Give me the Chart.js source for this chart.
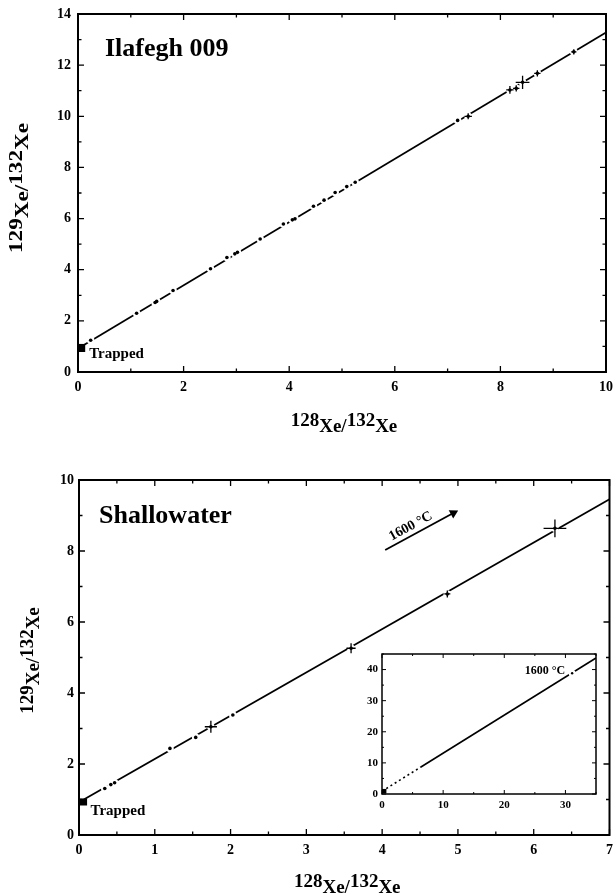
<!DOCTYPE html>
<html>
<head>
<meta charset="utf-8">
<title>Xe isotopes</title>
<script src="https://cdn.jsdelivr.net/npm/chart.js@4.4.1/dist/chart.umd.min.js"></script>
<style>
  html, body { margin: 0; padding: 0; background: #fff; }
  .page { position: relative; width: 615px; height: 895px; overflow: hidden; }
  canvas { position: absolute; }
  #ilafegh { left: 0; top: 0; }
  #shallow { left: 0; top: 440px; }
  #inset { left: 340px; top: 645px; }
</style>
</head>
<body>
<div class="page">
  <canvas id="ilafegh" width="615" height="440"></canvas>
  <canvas id="shallow" width="615" height="455"></canvas>
  <canvas id="inset" width="260" height="170"></canvas>
</div>
<script>
const SERIF = '"Liberation Serif", "Times New Roman", serif';

// Ilafegh 009 - release steps (128Xe/132Xe vs 129Xe/132Xe), error bars where visible
const ilafX = [0.24, 1.11, 1.46, 1.49, 1.80, 2.51, 2.82, 2.97, 3.02, 3.45, 3.89, 4.06, 4.11, 4.46, 4.66, 4.87, 5.09, 5.25, 7.19, 7.39, 8.18, 8.30, 8.42, 8.70, 9.39];
const ilafY = [1.24, 2.30, 2.72, 2.76, 3.19, 4.04, 4.48, 4.62, 4.68, 5.20, 5.79, 5.95, 5.99, 6.48, 6.72, 7.02, 7.25, 7.42, 9.84, 10.00, 11.03, 11.09, 11.33, 11.68, 12.52];
const ilafErrX = [0, 0, 0, 0, 0, 0, 0, 0, 0, 0, 0, 0, 0, 0, 0, 0, 0, 0, 0, 0.07, 0.07, 0.06, 0.13, 0.06, 0.05];
const ilafErrY = [0, 0, 0, 0, 0, 0, 0, 0, 0, 0, 0, 0, 0, 0, 0, 0, 0, 0, 0, 0.12, 0.15, 0.12, 0.26, 0.12, 0.10];
const ilafFitX = [0, 10];
const ilafFitY = [0.92, 13.28];
const ilafTrappedX = [0.06];
const ilafTrappedY = [0.94];

// Shallowater
const shallX = [0.34, 0.42, 0.47, 1.20, 1.54, 1.74, 2.03, 3.59, 4.86, 6.28];
const shallY = [1.31, 1.42, 1.47, 2.44, 2.75, 3.05, 3.38, 5.26, 6.79, 8.64];
const shallErrX = [0, 0, 0, 0, 0, 0.08, 0, 0.06, 0.04, 0.15];
const shallErrY = [0, 0, 0, 0, 0, 0.17, 0, 0.14, 0.10, 0.25];
const shallFitX = [0, 7];
const shallFitY = [0.92, 9.46];
const shallTrappedX = [0.06];
const shallTrappedY = [0.93];
const arrowX = [4.04, 4.94];
const arrowY = [8.03, 9.07];

// Shallowater inset, full range up to the 1600 C step
const insetLineX = [0, 6.3, 35];
const insetLineY = [0.9, 8.6, 43.7];
const hotX = [31.1];
const hotY = [38.8];
const insetTrappedX = [0.35];
const insetTrappedY = [0.9];

const pts = (xs, ys) => xs.map((x, i) => ({ x, y: ys[i] }));

// X-Y plot: fit line, white gaps round the points, the points, trapped square
function markerSets(xs, ys, fitX, fitY, trapX, trapY, trapR) {
  return [
    { data: pts(fitX, fitY), showLine: true, borderColor: '#000', borderWidth: 1.8, pointRadius: 0, order: 3 },
    { data: pts(xs, ys), pointStyle: 'circle', pointRadius: 3.8, pointBackgroundColor: '#fff', pointBorderWidth: 0, order: 2 },
    { data: pts(xs, ys), pointStyle: 'circle', pointRadius: 1.8, pointBackgroundColor: '#000', pointBorderWidth: 0, order: 1 },
    { data: pts(trapX, trapY), pointStyle: 'rect', pointRadius: trapR, pointBackgroundColor: '#000', pointBorderWidth: 0, order: 0 }
  ];
}

// box around the plot with inward major / minor ticks on all sides
function framePlugin(t) {
  return {
    id: 'frame',
    afterDatasetsDraw(chart) {
      const { ctx, chartArea: a, scales: { x, y } } = chart;
      ctx.save();
      ctx.strokeStyle = '#000';
      ctx.lineWidth = t.tickLw;
      ctx.beginPath();
      const mark = (axis, step, major, fn) => {
        for (let i = 0; ; i++) {
          const v = axis.min + i * step;
          if (v > axis.max + 1e-9) break;
          const isMajor = Math.abs(v / major - Math.round(v / major)) < 1e-6;
          fn(axis.getPixelForValue(v), isMajor ? t.major : t.minor);
        }
      };
      mark(x, t.xMinor, t.xMajor, (p, len) => {
        ctx.moveTo(p, a.bottom); ctx.lineTo(p, a.bottom - len);
        ctx.moveTo(p, a.top); ctx.lineTo(p, a.top + len);
      });
      mark(y, t.yMinor, t.yMajor, (p, len) => {
        ctx.moveTo(a.left, p); ctx.lineTo(a.left + len, p);
        ctx.moveTo(a.right, p); ctx.lineTo(a.right - len, p);
      });
      ctx.stroke();
      ctx.lineWidth = t.lw;
      ctx.strokeRect(a.left, a.top, a.right - a.left, a.bottom - a.top);
      ctx.restore();
    }
  };
}

function errorBars(xs, ys, ex, ey) {
  return {
    id: 'errorBars',
    afterDatasetsDraw(chart) {
      const { ctx, scales: { x, y } } = chart;
      ctx.save();
      ctx.strokeStyle = '#000';
      ctx.lineWidth = 1.3;
      ctx.beginPath();
      xs.forEach((v, i) => {
        if (!ex[i] && !ey[i]) return;
        const px = x.getPixelForValue(v), py = y.getPixelForValue(ys[i]);
        ctx.moveTo(x.getPixelForValue(v - ex[i]), py);
        ctx.lineTo(x.getPixelForValue(v + ex[i]), py);
        ctx.moveTo(px, y.getPixelForValue(ys[i] - ey[i]));
        ctx.lineTo(px, y.getPixelForValue(ys[i] + ey[i]));
      });
      ctx.stroke();
      ctx.restore();
    }
  };
}

// "128Xe/132Xe" with the mass numbers raised over the element symbol
function isotopeLabel(ctx, massA, massB, cx, baseline, angle, size, stretch) {
  const parts = [[massA, 0], ['Xe/', 6], [massB, 0], ['Xe', 6]];
  ctx.save();
  ctx.translate(cx, baseline);
  ctx.rotate(angle);
  ctx.scale(stretch, 1);
  ctx.font = `bold ${size}px ${SERIF}`;
  ctx.textAlign = 'left';
  ctx.textBaseline = 'alphabetic';
  const w = parts.reduce((s, p) => s + ctx.measureText(p[0]).width, 0);
  let pos = -w / 2;
  for (const [txt, dy] of parts) {
    ctx.fillText(txt, pos, dy);
    pos += ctx.measureText(txt).width;
  }
  ctx.restore();
}

function axisOpts(min, max, step, size, pad, fitSize, isX) {
  return {
    type: 'linear',
    min, max,
    afterFit: s => {
      // fixed axis band, and no extra room for the end labels
      if (isX) { s.height = fitSize; s.paddingLeft = 0; s.paddingRight = 0; }
      else { s.width = fitSize; s.paddingTop = 0; s.paddingBottom = 0; }
    },
    grid: { display: false, drawTicks: false },
    border: { display: false },
    ticks: {
      stepSize: step, includeBounds: false, maxRotation: 0, autoSkip: false,
      color: '#000', padding: pad,
      font: { family: SERIF, weight: 'bold', size }
    }
  };
}

function baseOptions(padding, xAxis, yAxis) {
  return {
    responsive: false,
    animation: false,
    events: [],
    layout: { padding },
    plugins: { legend: { display: false }, tooltip: { enabled: false }, colors: { enabled: false } },
    scales: { x: xAxis, y: yAxis }
  };
}

// ---------- Ilafegh 009 ----------
new Chart(document.getElementById('ilafegh'), {
  type: 'scatter',
  data: { datasets: markerSets(ilafX, ilafY, ilafFitX, ilafFitY, ilafTrappedX, ilafTrappedY, 5.7) },
  options: baseOptions({ top: 14, right: 9, left: 0, bottom: 0 },
    axisOpts(0, 10, 2, 14, 7, 68, true),
    axisOpts(0, 14, 2, 14, 7, 78, false)),
  plugins: [
    errorBars(ilafX, ilafY, ilafErrX, ilafErrY),
    framePlugin({ lw: 2, tickLw: 1.3, major: 6, minor: 3.5, xMajor: 2, xMinor: 1, yMajor: 2, yMinor: 1 }),
    {
      id: 'notes',
      afterDraw(chart) {
        const { ctx, chartArea: a, scales: { x, y } } = chart;
        ctx.save();
        ctx.fillStyle = '#000';
        ctx.font = `bold 26px ${SERIF}`;
        ctx.fillText('Ilafegh 009', a.left + 27, a.top + 42);
        ctx.font = `bold 15px ${SERIF}`;
        ctx.fillText('Trapped', x.getPixelForValue(ilafTrappedX[0]) + 8, y.getPixelForValue(ilafTrappedY[0]) + 10);
        isotopeLabel(ctx, '128', '132', (a.left + a.right) / 2 + 2, a.bottom + 54, 0, 19, 1);
        isotopeLabel(ctx, '129', '132', 22, (a.top + a.bottom) / 2 - 5, -Math.PI / 2, 19, 1.22);
        ctx.restore();
      }
    }
  ]
});

// ---------- Shallowater ----------
function arrowAngle(chart) {
  const { x, y } = chart.scales;
  const dx = x.getPixelForValue(arrowX[1]) - x.getPixelForValue(arrowX[0]);
  const dy = y.getPixelForValue(arrowY[1]) - y.getPixelForValue(arrowY[0]);
  return Math.atan2(dx, -dy) * 180 / Math.PI;
}

const shallSets = markerSets(shallX, shallY, shallFitX, shallFitY, shallTrappedX, shallTrappedY, 5);
shallSets.push({
  data: pts(arrowX, arrowY), showLine: true, borderColor: '#000', borderWidth: 1.8,
  pointStyle: 'triangle', pointRadius: [0, 5.5], pointBackgroundColor: '#000', pointBorderWidth: 0,
  pointRotation: c => arrowAngle(c.chart), order: 0
});

new Chart(document.getElementById('shallow'), {
  type: 'scatter',
  data: { datasets: shallSets },
  options: baseOptions({ top: 40, right: 5, left: 0, bottom: 0 },
    axisOpts(0, 7, 1, 14, 7, 60, true),
    axisOpts(0, 10, 2, 14, 5, 79, false)),
  plugins: [
    errorBars(shallX, shallY, shallErrX, shallErrY),
    framePlugin({ lw: 2, tickLw: 1.3, major: 6, minor: 3.5, xMajor: 1, xMinor: 0.5, yMajor: 2, yMinor: 1 }),
    {
      id: 'notes',
      afterDraw(chart) {
        const { ctx, chartArea: a, scales: { x, y } } = chart;
        ctx.save();
        ctx.fillStyle = '#000';
        ctx.font = `bold 26px ${SERIF}`;
        ctx.fillText('Shallowater', a.left + 20, a.top + 43);
        ctx.font = `bold 15px ${SERIF}`;
        ctx.fillText('Trapped', x.getPixelForValue(shallTrappedX[0]) + 7, y.getPixelForValue(shallTrappedY[0]) + 13);
        isotopeLabel(ctx, '128', '132', (a.left + a.right) / 2 + 3, a.bottom + 52, 0, 19, 1);
        isotopeLabel(ctx, '129', '132', 33, (a.top + a.bottom) / 2 + 3, -Math.PI / 2, 19, 1);
        // label along the arrow
        const x0 = x.getPixelForValue(arrowX[0]), y0 = y.getPixelForValue(arrowY[0]);
        const x1 = x.getPixelForValue(arrowX[1]), y1 = y.getPixelForValue(arrowY[1]);
        ctx.translate((x0 + x1) / 2, (y0 + y1) / 2);
        ctx.rotate(Math.atan2(y1 - y0, x1 - x0));
        ctx.font = `bold 14px ${SERIF}`;
        ctx.textAlign = 'center';
        ctx.fillText('1600 °C', -5, -5);
        ctx.restore();
      }
    }
  ]
});

// ---------- inset ----------
new Chart(document.getElementById('inset'), {
  type: 'scatter',
  data: {
    datasets: [
      {
        data: pts(insetLineX, insetLineY), showLine: true, borderColor: '#000', borderWidth: 1.6, pointRadius: 0,
        segment: { borderDash: c => (c.p0DataIndex === 0 ? [2, 3] : undefined) }, order: 3
      },
      { data: pts(hotX, hotY), pointStyle: 'circle', pointRadius: 3.5, pointBackgroundColor: '#fff', pointBorderWidth: 0, order: 2 },
      { data: pts(hotX, hotY), pointStyle: 'circle', pointRadius: 1.2, pointBackgroundColor: '#000', pointBorderWidth: 0, order: 1 },
      { data: pts(insetTrappedX, insetTrappedY), pointStyle: 'rect', pointRadius: 3.2, pointBackgroundColor: '#000', pointBorderWidth: 0, order: 0 }
    ]
  },
  options: baseOptions({ top: 9, right: 4, left: 0, bottom: 0 },
    axisOpts(0, 35, 10, 11, 5, 21, true),
    axisOpts(0, 45, 10, 11, 4, 42, false)),
  plugins: [
    framePlugin({ lw: 1.5, tickLw: 1, major: 4, minor: 2, xMajor: 10, xMinor: 5, yMajor: 10, yMinor: 5 }),
    {
      id: 'notes',
      afterDraw(chart) {
        const { ctx, scales: { x, y } } = chart;
        ctx.save();
        ctx.fillStyle = '#000';
        ctx.font = `bold 12px ${SERIF}`;
        ctx.textAlign = 'right';
        ctx.fillText('1600 °C', x.getPixelForValue(hotX[0]) - 7, y.getPixelForValue(hotY[0]) + 1);
        ctx.restore();
      }
    }
  ]
});
</script>
</body>
</html>
